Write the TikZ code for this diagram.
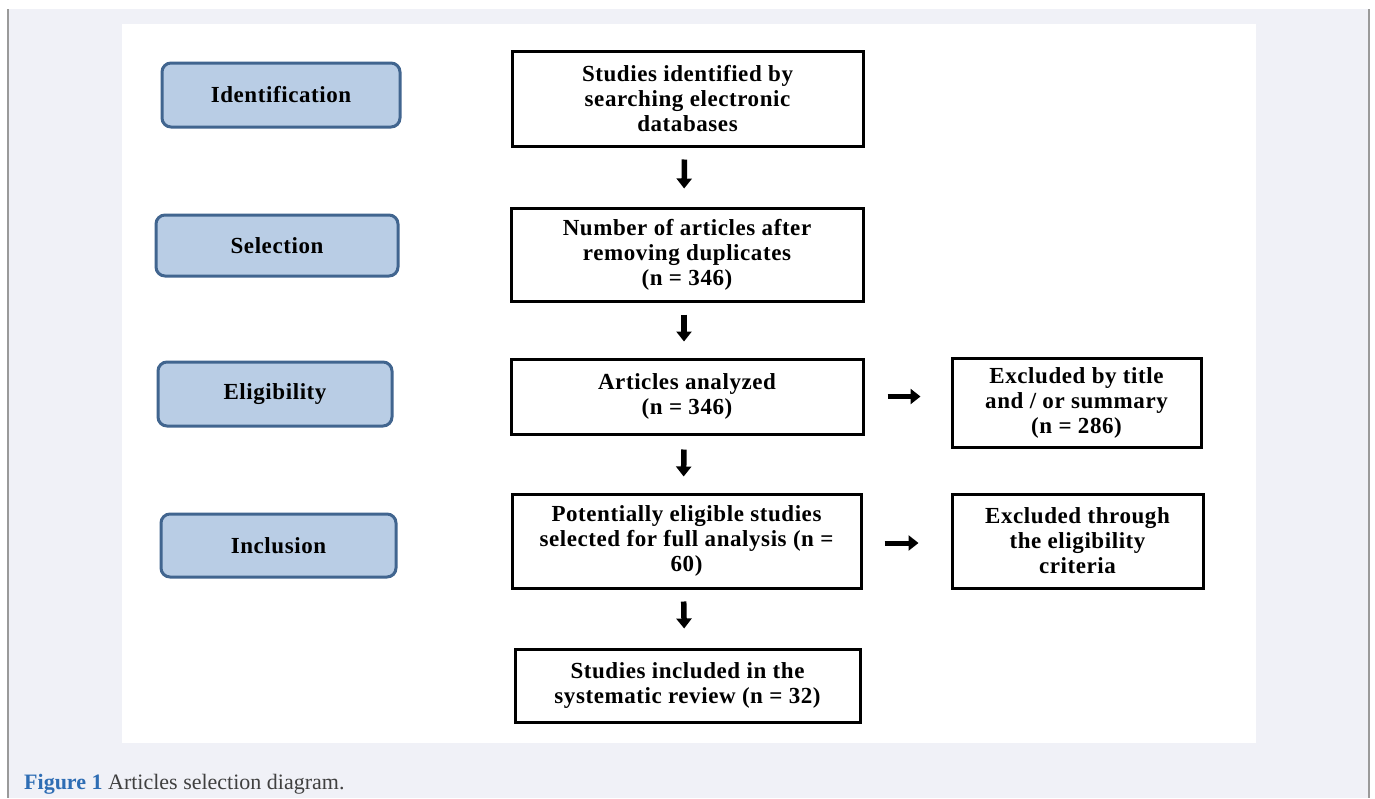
\documentclass[tikz,border=0pt]{standalone}
\usepackage{fontspec}
\setmainfont{Liberation Serif}
\usetikzlibrary{arrows.meta}
\definecolor{panel}{HTML}{F0F1F7}
\definecolor{stagefill}{HTML}{B9CDE5}
\definecolor{stageborder}{HTML}{41658F}
\definecolor{capblue}{HTML}{2E6DB4}
\definecolor{captext}{HTML}{404040}
\definecolor{frameline}{HTML}{9A9A9A}
\newcommand{\boxfont}{\bfseries\fontsize{23}{25}\selectfont\addfontfeature{LetterSpace=2.5}}
\tikzset{
  stage/.style={draw=stageborder, fill=stagefill, line width=3pt, rounded corners=9pt,
    inner sep=0pt, align=center, font=\boxfont},
  flowbox/.style={draw=black, fill=white, line width=3pt, inner sep=0pt, align=center,
    font=\boxfont},
  bigarrow/.style={line width=5.5pt, -{Triangle[width=15pt,length=10pt]}},
}
\begin{document}
\begin{tikzpicture}[x=1pt,y=-1pt]
\useasboundingbox (0,0) rectangle (1375,798);
\fill[white] (0,0) rectangle (1375,798);
\fill[panel] (8,9) rectangle (1369,798);
\draw[frameline, line width=1.5pt] (8,9) -- (8,798);
\draw[frameline, line width=1.5pt] (1369,9) -- (1369,798);
\fill[white] (122,24) rectangle (1256,743);

% stage labels
\node[stage, minimum width=238pt, minimum height=64pt] (id) at (281,95) {Identification};
\node[stage, minimum width=242pt, minimum height=61pt] (sel) at (277,245.5) {Selection};
\node[stage, minimum width=234pt, minimum height=64pt] (eli) at (275,394) {Eligibility};
\node[stage, minimum width=235pt, minimum height=63pt] (inc) at (278.5,545.5) {Inclusion};

% main flow
\node[flowbox, minimum width=351pt, minimum height=95pt] (b1) at (687.5,98.5)
  {Studies identified by\\searching electronic\\databases};
\node[flowbox, minimum width=352pt, minimum height=93pt] (b2) at (687,254.5)
  {Number of articles after\\removing duplicates\\(n = 346)};
\node[flowbox, minimum width=352pt, minimum height=75pt] (b3) at (687,396.5)
  {Articles analyzed\\(n = 346)};
\node[flowbox, minimum width=349pt, minimum height=94pt] (b4) at (686.5,541)
  {Potentially eligible studies\\selected for full analysis (n =\\60)};
\node[flowbox, minimum width=345pt, minimum height=73pt] (b5) at (687.5,685.5)
  {Studies included in the\\systematic review (n = 32)};
\node[flowbox, minimum width=249pt, minimum height=89pt] (r1) at (1076.5,402.5)
  {Excluded by title\\and / or summary\\(n = 286)};
\node[flowbox, minimum width=251pt, minimum height=94pt] (r2) at (1077.5,541)
  {Excluded through\\the eligibility\\criteria};

% arrows
\draw[bigarrow, shorten <=12pt, shorten >=18pt] ([xshift=-3pt]b1.south) -- ([xshift=-3pt]b2.north);
\draw[bigarrow, shorten <=12pt, shorten >=16pt] ([xshift=-3pt]b2.south) -- ([xshift=-3pt]b3.north);
\draw[bigarrow, shorten <=14pt, shorten >=16pt] ([xshift=-3pt]b3.south) -- ([xshift=-3pt]b4.north);
\draw[bigarrow, shorten <=12pt, shorten >=19pt] ([xshift=-3pt]b4.south) -- ([xshift=-3pt]b5.north);
\draw[bigarrow, line width=5pt, shorten <=23pt, shorten >=30pt] (b3.east) -- (b3.east -| r1.west);
\draw[bigarrow, line width=5pt, shorten <=22pt, shorten >=32pt] ([yshift=-2pt]b4.east) -- ([yshift=-2pt]b4.east -| r2.west);

% caption
\node[anchor=base west, inner sep=0pt, font=\fontsize{22}{26}\selectfont] (cap) at (24,789)
  {\textcolor{capblue}{\bfseries Figure 1} \textcolor{captext}{Articles selection diagram.}};
\end{tikzpicture}
\end{document}
